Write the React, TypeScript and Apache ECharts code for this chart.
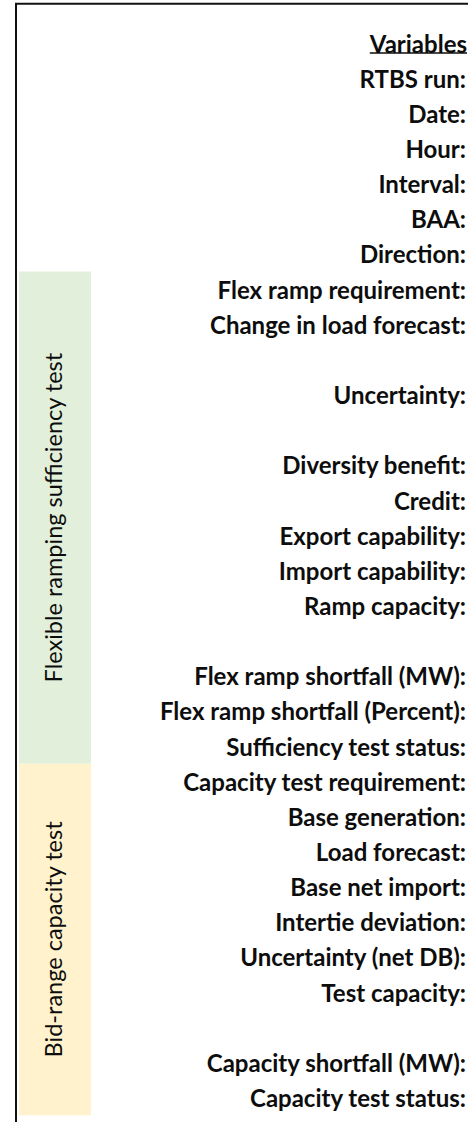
import React, { useEffect, useRef } from "react";
import * as echarts from "echarts";

// ---- data ----
const rowLabels: string[] = [
  "Variables",
  "RTBS run:",
  "Date:",
  "Hour:",
  "Interval:",
  "BAA:",
  "Direction:",
  "Flex ramp requirement:",
  "Change in load forecast:",
  "",
  "Uncertainty:",
  "",
  "Diversity benefit:",
  "Credit:",
  "Export capability:",
  "Import capability:",
  "Ramp capacity:",
  "",
  "Flex ramp shortfall (MW):",
  "Flex ramp shortfall (Percent):",
  "Sufficiency test status:",
  "Capacity test requirement:",
  "Base generation:",
  "Load forecast:",
  "Base net import:",
  "Intertie deviation:",
  "Uncertainty (net DB):",
  "Test capacity:",
  "",
  "Capacity shortfall (MW):",
  "Capacity test status:",
];

const sectionNames: string[] = ["Flexible ramping sufficiency test", "Bid-range capacity test"];
const sectionFirstRow: string[] = ["Flex ramp requirement:", "Capacity test requirement:"];
const sectionLastRow: string[] = ["Sufficiency test status:", "Capacity test status:"];

// ---- styles ----
const sectionColors = ["#E2EFDA", "#FFF2CC"];
const W = 468;
const H = 1122;
const LABEL_FONT = "Lato";
const LABEL_SIZE = 24;
const SECTION_SIZE = 23.5;
const HEADER_SHIFT = 1;

const categories = rowLabels.map((l, i) => (l === "" ? `__gap${i}` : l));

export default function App() {
  const ref = useRef<HTMLDivElement>(null);

  useEffect(() => {
    document.body.style.margin = "0";
    if (!ref.current) return;
    const chart = echarts.init(ref.current, undefined, { renderer: "svg", width: W, height: H });

    const gridTop = 25.5;
    const band = 35.15;
    const gridHeight = band * categories.length;

    chart.setOption({
      animation: false,
      backgroundColor: "#ffffff",
      grid: { left: 466, right: 1, top: gridTop, height: gridHeight },
      xAxis: { type: "value", show: false, min: 0, max: 1 },
      yAxis: {
        type: "category",
        data: categories,
        inverse: true,
        axisLine: { show: false },
        axisTick: { show: false },
        splitLine: { show: false },
        axisLabel: {
          interval: 0,
          margin: 0,
          fontFamily: LABEL_FONT,
          fontWeight: "bold",
          fontSize: LABEL_SIZE,
          color: "#0d0d0d",
          formatter: (v: string, idx: number) =>
            v.startsWith("__gap") ? "" : idx === 0 ? `{h|${v}}` : v,
          rich: {
            h: {
              fontFamily: LABEL_FONT,
              fontWeight: "bold",
              fontSize: LABEL_SIZE,
              color: "#0d0d0d",
              padding: [0, -HEADER_SHIFT, 0, 0],
            },
          },
        },
      },
      series: [{ type: "scatter", data: [], silent: true }],
    });

    const yOf = (cat: string) => chart.convertToPixel({ yAxisIndex: 0 }, cat) as number;
    const c0 = yOf(categories[0]);
    const c1 = yOf(categories[1]);
    const bandPx = Math.abs(c1 - c0);

    const graphics: any[] = [];
    // section boxes + vertical titles
    sectionNames.forEach((name, i) => {
      const top = yOf(sectionFirstRow[i]) - bandPx / 2;
      const bottom = yOf(sectionLastRow[i]) + bandPx / 2;
      graphics.push({
        type: "rect",
        shape: { x: 19, y: top, width: 72, height: bottom - top },
        style: { fill: sectionColors[i] },
        z: 1,
      });
      graphics.push({
        type: "text",
        x: 53,
        y: (top + bottom) / 2,
        rotation: Math.PI / 2,
        style: {
          text: name,
          fontFamily: LABEL_FONT,
          fontSize: SECTION_SIZE,
          fill: "#0d0d0d",
          align: "center",
          verticalAlign: "middle",
        },
        z: 2,
      });
    });

    // underline under header
    const ctx = document.createElement("canvas").getContext("2d");
    let tw = 100;
    if (ctx) {
      ctx.font = `bold ${LABEL_SIZE}px ${LABEL_FONT}`;
      tw = ctx.measureText(rowLabels[0]).width;
    }
    graphics.push({
      type: "line",
      shape: { x1: 466 + HEADER_SHIFT - tw, y1: c0 + 10, x2: 466 + HEADER_SHIFT, y2: c0 + 10 },
      style: { stroke: "#0d0d0d", lineWidth: 1.5 },
      z: 3,
    });

    // outer border (top + left)
    graphics.push({
      type: "line",
      shape: { x1: 15, y1: 3.7, x2: W, y2: 3.7 },
      style: { stroke: "#111", lineWidth: 2 },
      z: 3,
    });
    graphics.push({
      type: "line",
      shape: { x1: 16, y1: 3, x2: 16, y2: H },
      style: { stroke: "#111", lineWidth: 2 },
      z: 3,
    });

    chart.setOption({ graphic: graphics });

    return () => chart.dispose();
  }, []);

  return (
    <div
      ref={ref}
      style={{ position: "absolute", left: 0, top: 0, width: W, height: H }}
    />
  );
}
